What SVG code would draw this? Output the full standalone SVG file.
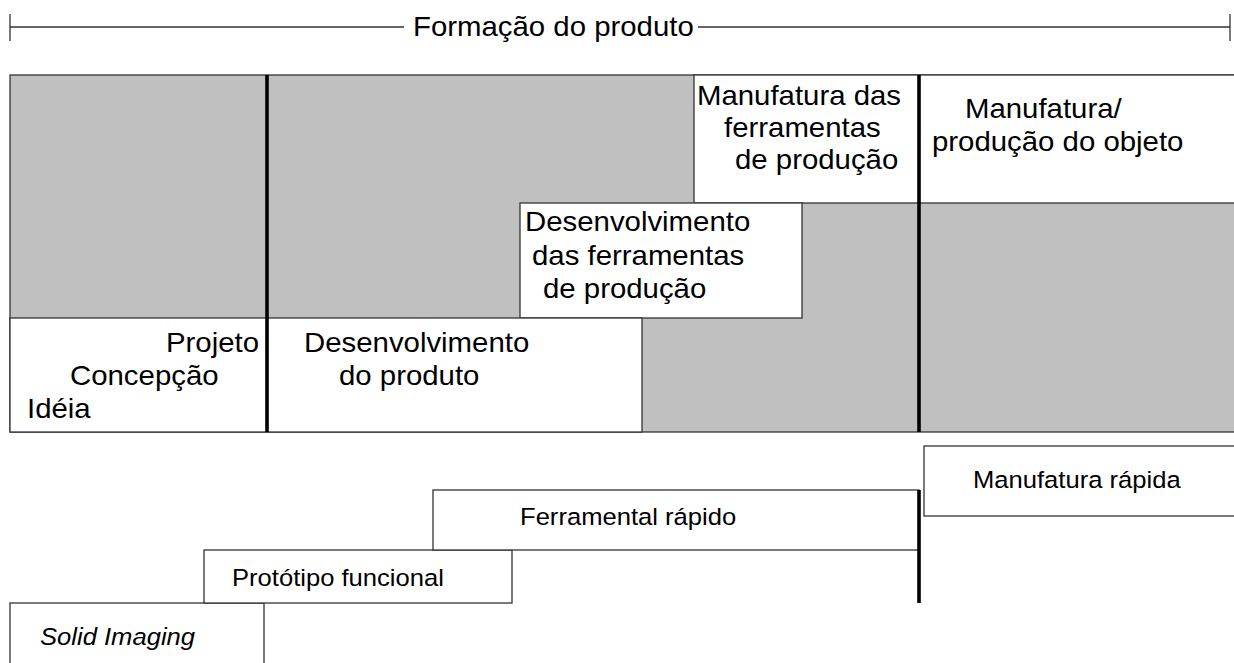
<svg xmlns="http://www.w3.org/2000/svg" width="1234" height="663" viewBox="0 0 1234 663">
<style>
.box{fill:#fff;stroke:#333;stroke-width:1.3}
.grey{fill:#c0c0c0;stroke:#333;stroke-width:1.3}
.thick{stroke:#000;stroke-width:3.6;fill:none}
.thin{stroke:#333;stroke-width:1.3;fill:none}
text{font-family:"Liberation Sans",Arial,sans-serif;fill:#000}
.t{font-size:27.2px}
.s{font-size:23.7px}
.i{font-style:italic}
</style>
<rect width="1234" height="663" fill="#fff"/>
<g id="ruler">
<path class="thin" d="M10 27H404M698 27H1230M10 14V41M1230 14V41"/>
<text class="t" transform="matrix(1.08 0 0 1 413 36)">Formação do produto</text>
</g>
<g id="phase-area">
<rect class="grey" x="10" y="75" width="1230" height="357"/>
</g>
<g id="manufatura-ferramentas">
<rect class="box" x="694" y="75" width="225" height="128"/>
<text class="t" transform="matrix(1.08 0 0 1 697 105)">Manufatura das</text>
<text class="t" transform="matrix(1.08 0 0 1 724 137)">ferramentas</text>
<text class="t" transform="matrix(1.08 0 0 1 735 169)">de produção</text>
</g>
<g id="manufatura-objeto">
<rect class="box" x="919" y="75" width="321" height="128"/>
<text class="t" transform="matrix(1.08 0 0 1 965 118)">Manufatura/</text>
<text class="t" transform="matrix(1.08 0 0 1 932 151)">produção do objeto</text>
</g>
<g id="desenvolvimento-ferramentas">
<rect class="box" x="520" y="203" width="282" height="115"/>
<text class="t" transform="matrix(1.08 0 0 1 525 231)">Desenvolvimento</text>
<text class="t" transform="matrix(1.08 0 0 1 532 265)">das ferramentas</text>
<text class="t" transform="matrix(1.08 0 0 1 543 298)">de produção</text>
</g>
<g id="projeto">
<rect class="box" x="10" y="318" width="632" height="114"/>
<text class="t" transform="matrix(1.08 0 0 1 166 352)">Projeto</text>
<text class="t" transform="matrix(1.08 0 0 1 70 385)">Concepção</text>
<text class="t" transform="matrix(1.08 0 0 1 27 418)">Idéia</text>
</g>
<g id="desenvolvimento-produto">
<text class="t" transform="matrix(1.08 0 0 1 304 352)">Desenvolvimento</text>
<text class="t" transform="matrix(1.08 0 0 1 339 385)">do produto</text>
</g>
<g id="solid-imaging">
<rect class="box" x="10" y="603" width="254" height="70"/>
<text class="s i" transform="matrix(1.08 0 0 1 40 645)">Solid Imaging</text>
</g>
<g id="prototipo-funcional">
<rect class="box" x="204" y="550" width="308" height="53"/>
<text class="s" transform="matrix(1.08 0 0 1 232 586)">Protótipo funcional</text>
</g>
<g id="ferramental-rapido">
<rect class="box" x="433" y="490" width="486" height="60"/>
<text class="s" transform="matrix(1.08 0 0 1 520 525)">Ferramental rápido</text>
</g>
<g id="manufatura-rapida">
<rect class="box" x="924" y="446" width="316" height="70"/>
<text class="s" transform="matrix(1.08 0 0 1 973 488)">Manufatura rápida</text>
</g>
<g id="connectors">
<path class="thick" d="M267 75V432M919 75V432M919 490V603"/>
</g>
</svg>
